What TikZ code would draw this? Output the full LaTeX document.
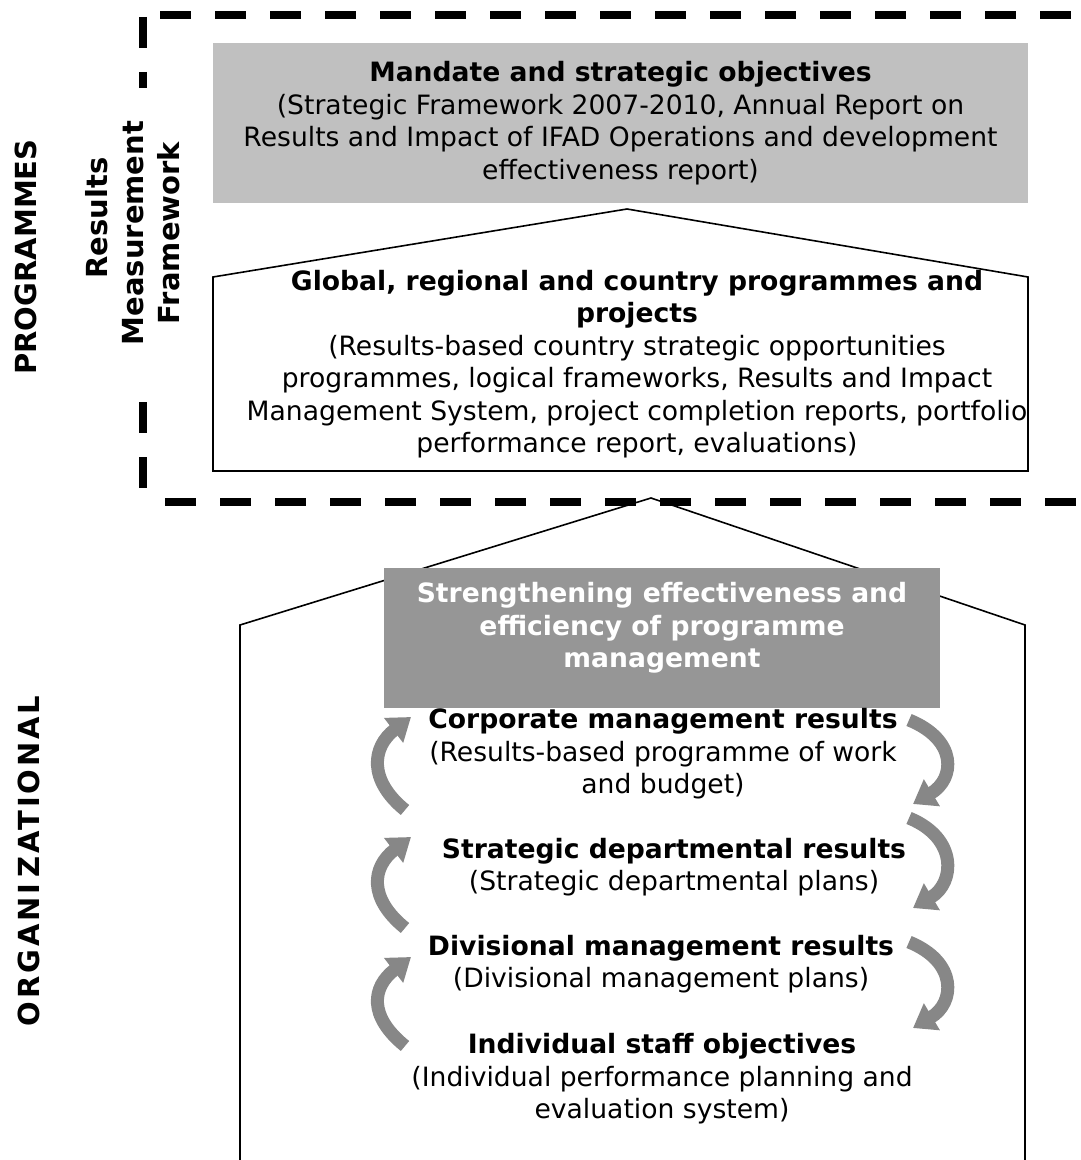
\documentclass[tikz,border=0pt]{standalone}
\usepackage{fontspec}
\setmainfont{DejaVu Sans}
\usetikzlibrary{arrows.meta}
\definecolor{boxgray}{HTML}{C0C0C0}
\definecolor{mgmtgray}{HTML}{969696}
\definecolor{arrowgray}{HTML}{878787}
\tikzset{
  body/.style = {align = center, inner sep = 0pt, font = \fontsize{13.3}{16.25}\selectfont},
  sidelabel/.style = {align = center, inner sep = 0pt, rotate = 90, font = \fontsize{14.5}{18}\selectfont\bfseries},
  frameline/.style = {line width = 4pt, dash pattern = on 15.5pt off 12pt},
  outline/.style = {draw = black, line width = 0.8pt},
  cyclearrow/.style = {draw = arrowgray, line width = 6.5pt, -{Triangle[width = 15pt, length = 11pt]}}
}
\begin{document}
\begin{tikzpicture}[x = 0.5pt, y = -0.5pt]
\clip (0,0) rectangle (1080,1160);
% dashed frame round the programme level
\draw[frameline] (160,15) -- (1080,15);
\draw[frameline] (143,17) -- (143,504);
\draw[frameline] (165,502) -- (1080,502);
\node[sidelabel] (programmes) at (26,257) {PROGRAMMES};
\node[sidelabel] (organizational) at (28.5,861) {\addfontfeature{LetterSpace = 10}ORGANI\kern 3pt ZATIONAL};
\node[sidelabel, fill = white, minimum width = 145pt, minimum height = 55pt] (rmf) at (133,233) {\hspace*{15pt}Results\\Measurement\\Framework};
% programme level
\node[body, fill = boxgray, minimum width = 407.5pt, minimum height = 80pt] (mandate) at (620.5,123) {\textbf{Mandate and strategic objectives}\\(Strategic Framework 2007-2010, Annual Report on\\Results and Impact of IFAD Operations and development\\effectiveness report)};
\draw[outline] (213,471) -- (213,277) -- (627,209) -- (1028,277) -- (1028,471) -- cycle;
\node[body] (global) at (637,364) {\textbf{Global, regional and country programmes and}\\\textbf{projects}\\(Results-based country strategic opportunities\\programmes, logical frameworks, Results and Impact\\Management System, project completion reports, portfolio\\performance report, evaluations)};
% organizational level
\draw[outline] (240,1165) -- (240,625) -- (651,498) -- (1025,625) -- (1025,1165);
\fill[mgmtgray] (384,568) rectangle (940,708);
\node[body, text = white, font = \fontsize{13.3}{16.25}\selectfont\bfseries] (progmgmt) at (662,628) {Strengthening effectiveness and\\efficiency of programme\\management};
\node[body] (corporate) at (663,754) {\textbf{Corporate management results}\\(Results-based programme of work\\and budget)};
\node[body] (departmental) at (674,867) {\textbf{Strategic departmental results}\\(Strategic departmental plans)};
\node[body] (divisional) at (661,964) {\textbf{Divisional management results}\\(Divisional management plans)};
\node[body] (staff) at (662,1079) {\textbf{Individual staff objectives}\\(Individual performance planning and\\evaluation system)};
% cycle arrows, up on the left and down on the right
\foreach \t/\b in {717/810, 837/928, 957/1046}
  \draw[cyclearrow] (405,\b) .. controls (368,\b-30) and (372,\t+30) .. (411,\t);
\foreach \t/\b in {720/804, 818/908, 942/1028}
  \draw[cyclearrow] (909,\t) .. controls (958,\t+20) and (955,\b-25) .. (913,\b);
\end{tikzpicture}
\end{document}
